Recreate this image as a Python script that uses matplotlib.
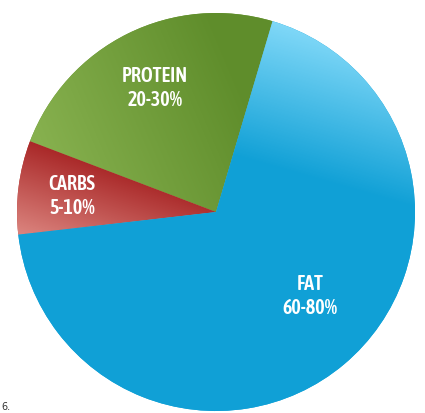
import numpy as np
import matplotlib
matplotlib.use("Agg")
import matplotlib.pyplot as plt
from matplotlib import font_manager
from matplotlib.colors import LinearSegmentedColormap

# macro shares
categories = ["PROTEIN", "CARBS", "FAT"]
shares = [23.8, 7.6, 68.6]
ranges = ["20-30%", "5-10%", "60-80%"]

base_colors = ["#6a9835", "#b83a36", "#12a2d8"]
# gradient: (light color, dark color, light point px, dark point px)
grads = [
    ("#86b04e", "#5f8d2b", (40, 140), (230, 60)),
    ("#dc8680", "#a82626", (30, 240), (60, 150)),
    ("#84daf9", "#10a0d6", (320, 30), (280, 170)),
]
label_pos = [(155, 88), (72, 196), (310, 296)]

W, H = 425, 414
cx, cy, R = 216, 414 - 213, 199

fig = plt.figure(figsize=(W / 100, H / 100), dpi=100)
ax = fig.add_axes([0, 0, 1, 1])

wedges, _ = ax.pie(shares, colors=base_colors, startangle=73.5,
                   counterclock=True, radius=R, center=(cx, cy))

yy, xx = np.mgrid[0:H, 0:W]
for w, (light, dark, p0, p1) in zip(wedges, grads):
    x0, y0 = p0[0], H - p0[1]
    x1, y1 = p1[0], H - p1[1]
    d = np.array([x1 - x0, y1 - y0], dtype=float)
    t = ((xx - x0) * d[0] + ((H - yy) - y0) * d[1]) / (d @ d)
    t = np.clip(t, 0, 1)
    cmap = LinearSegmentedColormap.from_list("g", [light, dark])
    im = ax.imshow(t, cmap=cmap, extent=(0, W, 0, H), origin="upper",
                   vmin=0, vmax=1, zorder=2)
    im.set_clip_path(w)

# pick a narrow family that has a bold face
bold_narrow = sorted({f.name for f in font_manager.fontManager.ttflist
                      if ("Narrow" in f.name or "Condensed" in f.name
                          or f.stretch in ("condensed", "semi-condensed"))
                      and f.weight in ("bold", 700, "semibold", 600)})
fam = bold_narrow + ["DejaVu Sans"]

for (px, py), name, rng in zip(label_pos, categories, ranges):
    ax.text(px, H - py, name + "\n" + rng, ha="center", va="center",
            color="white", fontsize=14.5, fontweight="semibold",
            family=fam, fontstretch="condensed", linespacing=1.3, zorder=3)

ax.text(1, 2, "6.", fontsize=7, color="#333333", ha="left", va="bottom")

ax.set_xlim(0, W)
ax.set_ylim(0, H)
ax.set_aspect("auto")
ax.axis("off")

fig.savefig("out.png", dpi=100)
